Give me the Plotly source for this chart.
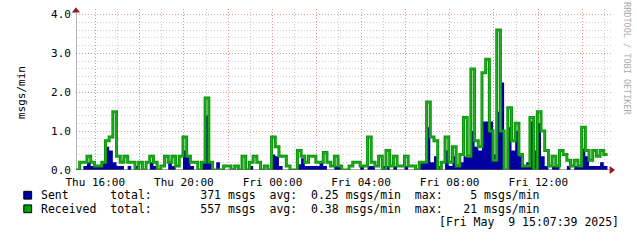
import plotly.graph_objects as go
import pandas as pd

# ---------------- data (10-minute steps, msgs/min) ----------------
start_time = "2025-05-08 15:07:39"
end_time = "2025-05-09 15:07:39"
step_minutes = 10

received = [
    0, 0.2, 0.2, 0.35, 0.2, 0.1, 0.1, 0.2, 0.75, 0.85, 1.5, 0.35,
    0.2, 0.35, 0.2, 0.2, 0, 0.2, 0, 0.2, 0.35, 0.2, 0, 0.1,
    0.35, 0.2, 0.35, 0.1, 0.35, 0.85, 0.35, 0.2, 0.2, 0, 0.2, 1.85,
    0.2, 0, 0, 0, 0.1, 0.1, 0, 0.1, 0, 0.35, 0, 0.2,
    0.35, 0.2, 0, 0.1, 0, 0.85, 0.6, 0.35, 0.35, 0.1, 0, 0,
    0.5, 0.35, 0.2, 0.35, 0.35, 0.2, 0.2, 0.45, 0.2, 0.1, 0.35, 0.1,
    0, 0, 0.1, 0.2, 0.2, 0.1, 0.1, 0.85, 0.2, 0.1, 0.35, 0,
    0.5, 0.1, 0.35, 0.1, 0.1, 0.35, 0.1, 0.1, 0, 0.2, 0.2, 1.75,
    0.85, 0.75, 0, 0.2, 0.85, 0.2, 0.6, 0.1, 0.4, 1.35, 0.35, 2.6,
    0.75, 0.6, 2.5, 2.85, 1.0, 0.25, 3.6, 1.0, 0, 1.6, 0.75, 1.2,
    0.4, 0.1, 0.1, 1.35, 0, 1.5, 1.0, 0.5, 0.1, 0.35, 0.1, 0.5,
    0.4, 0.25, 0.1, 0.25, 0.1, 1.1, 0.5, 0.25, 0.5, 0.35, 0.5, 0.4,
]

sent = [
    0, 0, 0.1, 0.2, 0.1, 0.1, 0.1, 0.2, 0.6, 0.5, 0.2, 0.1,
    0.1, 0, 0.1, 0, 0.1, 0, 0, 0, 0.2, 0.1, 0, 0,
    0, 0.2, 0.1, 0, 0, 0.5, 0.35, 0.1, 0, 0, 0.2, 1.4,
    0.2, 0, 0.2, 0, 0, 0, 0, 0, 0, 0, 0, 0.1,
    0, 0, 0, 0, 0, 0.4, 0.35, 0.1, 0, 0, 0, 0,
    0.15, 0.3, 0.1, 0.1, 0.1, 0.1, 0.2, 0.1, 0, 0, 0.1, 0.1,
    0, 0, 0, 0, 0, 0.1, 0, 0.1, 0.1, 0, 0, 0.1,
    0.1, 0, 0.1, 0, 0, 0.1, 0, 0, 0, 0.2, 0.2, 1.1,
    0.2, 0.35, 0.1, 0, 0.5, 0.1, 0.35, 0.1, 0.2, 0.35, 0.35, 1.0,
    0.6, 0.5, 1.25, 1.25, 1.25, 0.4, 1.5, 2.25, 0, 1.1, 0.5, 1.0,
    0.35, 0.1, 0.2, 1.25, 0.5, 1.2, 0.35, 0.1, 0, 0.1, 0.1, 0,
    0, 0.1, 0, 0.1, 0.1, 0.55, 0.35, 0.1, 0.1, 0.1, 0.2, 0.1,
]

y_ticks = [0, 1, 2, 3, 4]
y_tick_labels = ["0.0", "1.0", "2.0", "3.0", "4.0"]

legend_rows = [
    ("Sent", "371", "0.25", "5"),
    ("Received", "557", "0.38", "21"),
]
timestamp_text = "[Fri May  9 15:07:39 2025]"

# ---------------- styling ----------------
W, H = 637, 243
MONO = "DejaVu Sans Mono"
BLUE = "#0000A0"
GREEN_DARK = "#0B960B"
GREEN_LIGHT = "#26AE26"
ARROW = "#A01010"
MAJOR_GRID = "rgba(240,110,110,0.6)"
MINOR_GRID = "rgba(170,170,170,0.6)"

t0 = pd.Timestamp(start_time)
t1 = pd.Timestamp(end_time)
times = [t0 + pd.Timedelta(minutes=step_minutes * i) for i in range(len(received))] + [t1]
recv_y = received + [received[-1]]
sent_y = sent + [sent[-1]]

# pixel geometry of plot area
PX_L, PX_R = 67, 607
PY_T, PY_B = 15, 175
sec_per_px = (t1 - t0).total_seconds() / (PX_R - PX_L)
val_per_px = 4.0 / (PY_B - PY_T)
x_end_ext = t1 + pd.Timedelta(seconds=4 * sec_per_px)
y_top_ext = 4.0 + 6 * val_per_px

fig = go.Figure()
fig.add_trace(go.Scatter(x=times, y=sent_y, mode="lines", line=dict(width=0, shape="hv"),
                         fill="tozeroy", fillcolor=BLUE, hoverinfo="skip", showlegend=False))
fig.add_trace(go.Scatter(x=times, y=recv_y, mode="lines", line=dict(width=3, shape="hv", color=GREEN_DARK),
                         hoverinfo="skip", showlegend=False))
fig.add_trace(go.Scatter(x=times, y=recv_y, mode="lines", line=dict(width=1, shape="hv", color=GREEN_LIGHT),
                         hoverinfo="skip", showlegend=False))
# axis arrows
fig.add_trace(go.Scatter(x=[t1 + pd.Timedelta(seconds=4 * sec_per_px)], y=[0], mode="markers",
                         marker=dict(symbol="triangle-right", size=7, color=ARROW),
                         cliponaxis=False, hoverinfo="skip", showlegend=False))
fig.add_trace(go.Scatter(x=[t0], y=[4.0 + 4 * val_per_px], mode="markers",
                         marker=dict(symbol="triangle-up", size=7, color=ARROW),
                         cliponaxis=False, hoverinfo="skip", showlegend=False))

# x ticks: grid every 2h (major), every 1h (minor), labels every 4h
first_tick = t0.ceil("2h")
tickvals, ticktext = [], []
t = first_tick
while t <= t1:
    tickvals.append(t)
    ticktext.append(t.strftime("%a %H:%M") if t.hour % 4 == 0 else "")
    t += pd.Timedelta(hours=2)

fig.update_xaxes(
    range=[t0, x_end_ext],
    domain=[PX_L / W, (PX_R + 4) / W],
    tickvals=tickvals, ticktext=ticktext,
    showgrid=True, gridcolor=MAJOR_GRID, griddash="1px,2px", gridwidth=1,
    minor=dict(dtick=3600 * 1000, showgrid=True, gridcolor=MINOR_GRID,
               griddash="1px,2px", gridwidth=1, ticks=""),
    showline=False, zeroline=False, ticks="", ticklabelstandoff=4,
    tickfont=dict(family=MONO, size=11, color="#000000"),
)
fig.update_yaxes(
    range=[0, y_top_ext],
    domain=[(H - PY_B) / H, (H - (PY_T - 6)) / H],
    tickvals=y_ticks, ticktext=y_tick_labels,
    showgrid=True, gridcolor=MAJOR_GRID, griddash="1px,2px", gridwidth=1,
    minor=dict(dtick=0.2, showgrid=True, gridcolor=MINOR_GRID,
               griddash="1px,2px", gridwidth=1, ticks=""),
    showline=False, zeroline=False, ticks="", ticklabelstandoff=4,
    tickfont=dict(family=MONO, size=11, color="#000000"),
)

# axis lines
fig.add_shape(type="line", xref="x", yref="y", x0=t0, x1=x_end_ext, y0=0, y1=0,
              line=dict(color="#606060", width=1))
fig.add_shape(type="line", xref="x", yref="y", x0=t0, x1=t0, y0=0, y1=y_top_ext,
              line=dict(color="#606060", width=1))

annotations = []
annotations.append(dict(text="msgs/min", x=11 / W, y=1 - 95 / H, xref="paper", yref="paper",
                        showarrow=False, textangle=-90, font=dict(family=MONO, size=11, color="#000"),
                        xanchor="center", yanchor="middle"))
annotations.append(dict(text="RRDTOOL / TOBI OETIKER", x=627 / W, y=1 - 60 / H, xref="paper", yref="paper",
                        showarrow=False, textangle=90, font=dict(family=MONO, size=8.5, color="#AAAAAA"),
                        xanchor="center", yanchor="middle"))

row_y = [201, 215]
colors = [BLUE, "#00A000"]
for (name, total, avg, mx), yy, col in zip(legend_rows, row_y, colors):
    line = f"{name:<10}total: {total:>9} msgs  avg: {avg:>5} msgs/min  max: {mx:>4} msgs/min"
    annotations.append(dict(text=line.replace(" ", "&nbsp;"), x=29 / W, y=1 - yy / H, xref="paper", yref="paper",
                            showarrow=False, xanchor="left", yanchor="middle",
                            font=dict(family=MONO, size=11.5, color="#000")))
    fig.add_shape(type="rect", xref="paper", yref="paper",
                  x0=14 / W, x1=22 / W, y0=1 - (yy + 4) / H, y1=1 - (yy - 4) / H,
                  fillcolor=col, line=dict(color="#000000", width=1))
annotations.append(dict(text=timestamp_text.replace(" ", "&nbsp;"), x=621 / W, y=1 - 229 / H,
                        xref="paper", yref="paper", showarrow=False, xanchor="right", yanchor="middle",
                        font=dict(family=MONO, size=11.5, color="#000")))

fig.update_layout(width=W, height=H, margin=dict(l=0, r=0, t=0, b=0),
                  paper_bgcolor="white", plot_bgcolor="white", annotations=annotations,
                  showlegend=False)
fig.write_html("out.html")
